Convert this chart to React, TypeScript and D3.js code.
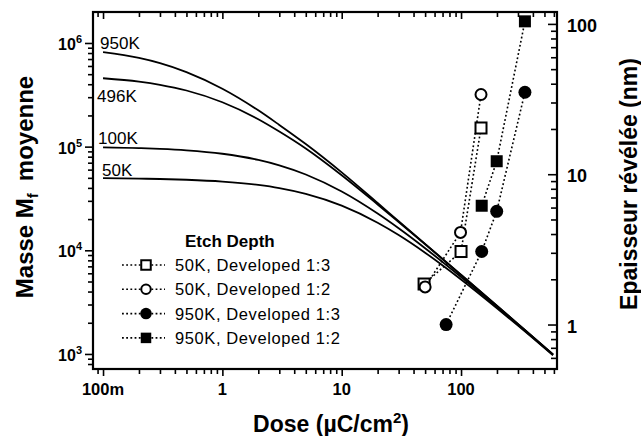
import React, { useEffect, useRef } from 'react';
import * as d3 from 'd3';

// dose (µC/cm2) sampled along the molecular-weight curves
const doses = [0.1, 0.2, 0.3, 0.5, 1, 2, 3, 5, 10, 20, 30, 50, 100, 200, 300, 400, 590];
const mass950K = [817000, 717000, 639000, 524000, 362000, 224000, 162000, 106000, 56500, 28600, 19100, 11550, 5810, 2915, 1945, 1460, 990];
const mass496K = [457000, 424000, 395000, 348000, 268000, 184000, 140000, 96000, 53000, 27700, 18760, 11430, 5780, 2907, 1941, 1458, 989];
const mass100K = [98300, 96700, 95100, 92100, 85400, 74500, 66100, 53900, 36900, 22600, 16300, 10470, 5525, 2841, 1912, 1441, 981];
const mass50K = [49600, 49150, 48750, 47950, 46060, 42700, 39800, 35000, 26950, 18450, 14030, 9480, 5235, 2762, 1876, 1420, 972];
const curveNames = ['950K', '496K', '100K', '50K'];

// etch depth (nm), right axis
const etchDose50K13 = [49, 100, 147];
const etchDepth50K13 = [1.86, 3.06, 20.3];
const etchDose50K12 = [50, 99, 147];
const etchDepth50K12 = [1.78, 4.1, 33.9];
const etchDose950K13 = [75, 149, 199, 343];
const etchDepth950K13 = [1.0, 3.06, 5.66, 35.1];
const etchDose950K12 = [149, 199, 343];
const etchDepth950K12 = [6.17, 12.2, 104];
const legendLabels = ['50K, Developed 1:3', '50K, Developed 1:2', '950K, Developed 1:3', '950K, Developed 1:2'];

const xTicks = [0.1, 1, 10, 100];
const xTickLabels = ['100m', '1', '10', '100'];
const yLeftTicks = [1e3, 1e4, 1e5, 1e6];
const yLeftExp = ['3', '4', '5', '6'];
const yRightTicks = [1, 10, 100];
const yRightLabels = ['1', '10', '100'];

const W = 641;
const H = 436;
const FONT = '"Liberation Sans", Arial, Helvetica, sans-serif';

const App = () => {
  const ref = useRef<SVGSVGElement>(null);

  useEffect(() => {
    const svg = d3.select(ref.current);
    svg.selectAll('*').remove();

    const m = { left: 93, right: 557, top: 12, bottom: 369 };
    const x = d3.scaleLog().domain([0.0824, 637]).range([m.left, m.right]);
    const yL = d3.scaleLog().domain([716, 1.99e6]).range([m.bottom, m.top]);
    const yR = d3.scaleLog().domain([0.506, 120]).range([m.bottom, m.top]);

    svg.append('rect').attr('width', W).attr('height', H).attr('fill', '#fff');

    const minor = (sc: any, majors: number[]) =>
      sc.ticks().filter((t: number) => !majors.some(v => Math.abs(v - t) / v < 1e-6));

    const styleAxis = (g: any) => {
      g.select('.domain').remove();
      g.selectAll('text').remove();
      g.selectAll('line').attr('stroke', '#000').attr('stroke-width', 1.6);
    };

    // ticks
    svg.append('g').attr('transform', `translate(0,${m.bottom})`)
      .call(d3.axisBottom(x).tickValues(xTicks).tickSize(7)).call(styleAxis);
    svg.append('g').attr('transform', `translate(0,${m.bottom})`)
      .call(d3.axisBottom(x).tickValues(minor(x, xTicks)).tickSize(5)).call(styleAxis);
    svg.append('g').attr('transform', `translate(0,${m.top})`)
      .call(d3.axisTop(x).tickValues(xTicks).tickSize(-7)).call(styleAxis);
    svg.append('g').attr('transform', `translate(0,${m.top})`)
      .call(d3.axisTop(x).tickValues(minor(x, xTicks)).tickSize(-5)).call(styleAxis);
    svg.append('g').attr('transform', `translate(${m.left},0)`)
      .call(d3.axisLeft(yL).tickValues(yLeftTicks).tickSize(8)).call(styleAxis);
    svg.append('g').attr('transform', `translate(${m.left},0)`)
      .call(d3.axisLeft(yL).tickValues(minor(yL, yLeftTicks)).tickSize(5)).call(styleAxis);
    svg.append('g').attr('transform', `translate(${m.right},0)`)
      .call(d3.axisRight(yR).tickValues(yRightTicks).tickSize(-9)).call(styleAxis);
    svg.append('g').attr('transform', `translate(${m.right},0)`)
      .call(d3.axisRight(yR).tickValues(minor(yR, yRightTicks)).tickSize(-6)).call(styleAxis);

    // frame
    svg.append('rect')
      .attr('x', m.left).attr('y', m.top)
      .attr('width', m.right - m.left).attr('height', m.bottom - m.top)
      .attr('fill', 'none').attr('stroke', '#000').attr('stroke-width', 2.2);

    // tick labels
    const bold = (sel: any, size: number) =>
      sel.attr('font-family', FONT).attr('font-weight', 'bold').attr('font-size', size).attr('fill', '#000');

    xTicks.forEach((t, i) => {
      bold(svg.append('text'), 16.5).attr('x', x(t)).attr('y', 395)
        .attr('text-anchor', 'middle').text(xTickLabels[i]);
    });
    yLeftTicks.forEach((t, i) => {
      const tx = bold(svg.append('text'), 16).attr('x', 82).attr('y', yL(t) + 7).attr('text-anchor', 'end');
      tx.append('tspan').text('10');
      tx.append('tspan').attr('font-size', 11).attr('dy', -7).text(yLeftExp[i]);
    });
    yRightTicks.forEach((t, i) => {
      bold(svg.append('text'), 18).attr('x', 567).attr('y', yR(t) + 8).text(yRightLabels[i]);
    });

    // axis titles
    const xt = bold(svg.append('text'), 23).attr('x', 331).attr('y', 432).attr('text-anchor', 'middle');
    xt.append('tspan').text('Dose (µC/cm');
    xt.append('tspan').attr('font-size', 15).attr('dy', -9).text('2');
    xt.append('tspan').attr('dy', 9).text(')');

    const yt = bold(svg.append('text'), 24)
      .attr('transform', 'translate(33,187) rotate(-90)').attr('text-anchor', 'middle');
    yt.append('tspan').text('Masse M');
    yt.append('tspan').attr('font-size', 15).attr('dy', 5).text('f');
    yt.append('tspan').attr('dy', -5).attr('dx', 12).text('moyenne');

    bold(svg.append('text'), 23)
      .attr('transform', 'translate(637,184) rotate(-90)').attr('text-anchor', 'middle')
      .text('Epaisseur révélée (nm)');

    // molecular weight curves
    const massSeries = [mass950K, mass496K, mass100K, mass50K];
    const line = d3.line<number>()
      .x((_, i) => x(doses[i]))
      .y(d => yL(d))
      .curve(d3.curveMonotoneX);
    massSeries.forEach(s => {
      svg.append('path').datum(s)
        .attr('fill', 'none').attr('stroke', '#000').attr('stroke-width', 1.8)
        .attr('d', line);
    });

    const labelOffsets = [-3, 24, -3, -2];
    const labelDx = [-3, -6, -5, -1];
    massSeries.forEach((s, i) => {
      svg.append('text').attr('font-family', FONT).attr('font-size', 17).attr('fill', '#000')
        .attr('x', x(doses[0]) + labelDx[i]).attr('y', yL(s[0]) + labelOffsets[i])
        .text(curveNames[i]);
    });

    // etch depth series
    const etch = [
      { d: etchDose50K13, v: etchDepth50K13, shape: 'square', filled: false },
      { d: etchDose50K12, v: etchDepth50K12, shape: 'circle', filled: false },
      { d: etchDose950K13, v: etchDepth950K13, shape: 'circle', filled: true },
      { d: etchDose950K12, v: etchDepth950K12, shape: 'square', filled: true },
    ];

    const dotted = (sel: any) =>
      sel.attr('fill', 'none').attr('stroke', '#000').attr('stroke-width', 1.6)
        .attr('stroke-dasharray', '1.8,2.4');

    etch.forEach(s => {
      const eline = d3.line<number>().x((_, i) => x(s.d[i])).y(v => yR(v));
      svg.append('path').datum(s.v).call(dotted).attr('d', eline);
    });

    const marker = (g: any, shape: string, filled: boolean, cx: number, cy: number, size: number) => {
      if (shape === 'square') {
        const a = filled ? size + 1 : size;
        g.append('rect').attr('x', cx - a / 2).attr('y', cy - a / 2).attr('width', a).attr('height', a)
          .attr('fill', filled ? '#000' : '#fff').attr('stroke', '#000').attr('stroke-width', filled ? 0 : 2);
      } else {
        g.append('circle').attr('cx', cx).attr('cy', cy).attr('r', filled ? size / 2 + 1 : size / 2)
          .attr('fill', filled ? '#000' : '#fff').attr('stroke', '#000').attr('stroke-width', filled ? 0 : 2);
      }
    };

    etch.forEach(s => {
      s.v.forEach((v, i) => marker(svg, s.shape, s.filled, x(s.d[i]), yR(v), 11));
    });

    // legend
    bold(svg.append('text'), 17).attr('x', 185).attr('y', 247).text('Etch Depth');
    etch.forEach((s, i) => {
      const ly = 265 + i * 24.3;
      svg.append('line').attr('x1', 122).attr('x2', 165).attr('y1', ly).attr('y2', ly).call(dotted);
      marker(svg, s.shape, s.filled, 146, ly, 9.5);
      svg.append('text').attr('font-family', FONT).attr('font-size', 16.5)
        .style('letter-spacing', '0.6px')
        .attr('fill', '#000').attr('x', 175).attr('y', ly + 6).text(legendLabels[i]);
    });
  }, []);

  return (
    <svg ref={ref} width={W} height={H}
      style={{ position: 'absolute', left: 0, top: 0, display: 'block' }} />
  );
};

export default App;
